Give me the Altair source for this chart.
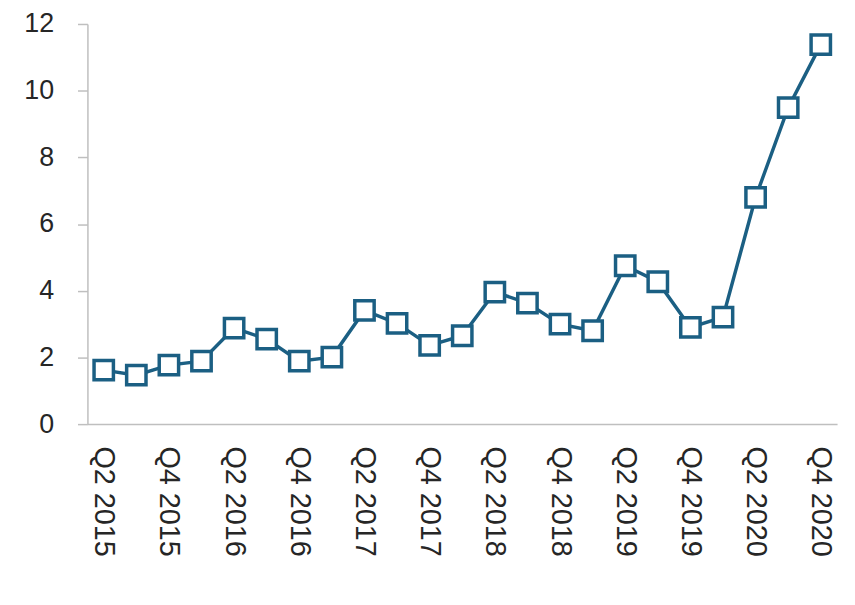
import altair as alt
import pandas as pd

quarters = [
    "Q2 2015", "Q3 2015", "Q4 2015", "Q1 2016", "Q2 2016", "Q3 2016", "Q4 2016",
    "Q1 2017", "Q2 2017", "Q3 2017", "Q4 2017", "Q1 2018", "Q2 2018", "Q3 2018",
    "Q4 2018", "Q1 2019", "Q2 2019", "Q3 2019", "Q4 2019", "Q1 2020", "Q2 2020",
    "Q3 2020", "Q4 2020",
]
values = [
    1.62, 1.47, 1.77, 1.89, 2.88, 2.55, 1.89,
    2.01, 3.41, 3.02, 2.36, 2.65, 3.96, 3.63,
    3.0, 2.8, 4.75, 4.27, 2.9, 3.21, 6.8,
    9.49, 11.38,
]
shown_labels = [q for q in quarters if q.startswith("Q2") or q.startswith("Q4")]
y_ticks = [0, 2, 4, 6, 8, 10, 12]

df = pd.DataFrame({"quarter": quarters, "value": values})

COLOR = "#1B5F83"
FONT = "Liberation Sans"
TEXT = "#262626"

x = alt.X(
    "quarter:O",
    sort=quarters,
    scale=alt.Scale(type="point", padding=0.5),
    axis=alt.Axis(
        title=None,
        values=shown_labels,
        labelAngle=90,
        labelAlign="left",
        labelBaseline="middle",
        labelPadding=22,
        labelFontSize=29,
        labelFont=FONT,
        labelColor=TEXT,
        ticks=False,
        domainColor="#BFBFBF",
        domainWidth=1.5,
        labelLimit=300,
    ),
)
y = alt.Y(
    "value:Q",
    scale=alt.Scale(domain=[0, 12], nice=False),
    axis=alt.Axis(
        title=None,
        values=y_ticks,
        grid=False,
        tickSize=10,
        tickColor="#BFBFBF",
        tickWidth=1.5,
        domainColor="#BFBFBF",
        domainWidth=1.5,
        labelPadding=24,
        labelFontSize=27,
        labelFont=FONT,
        labelColor=TEXT,
    ),
)

line = alt.Chart(df).mark_line(color=COLOR, strokeWidth=3.5).encode(x=x, y=y)
points = alt.Chart(df).mark_point(
    shape="square", size=380, filled=True, fill="white", stroke=COLOR, strokeWidth=3.5, opacity=1
).encode(x=x, y=y)

chart = (
    alt.layer(line, points)
    .properties(
        width=755,
        height=403,
        autosize=alt.AutoSizeParams(type="none"),
        padding={"left": 80, "top": 14, "right": 10, "bottom": 170},
        background="white",
    )
    .configure_view(stroke=None)
)

chart.save("out.html", embed_options={"renderer": "svg", "actions": False})
